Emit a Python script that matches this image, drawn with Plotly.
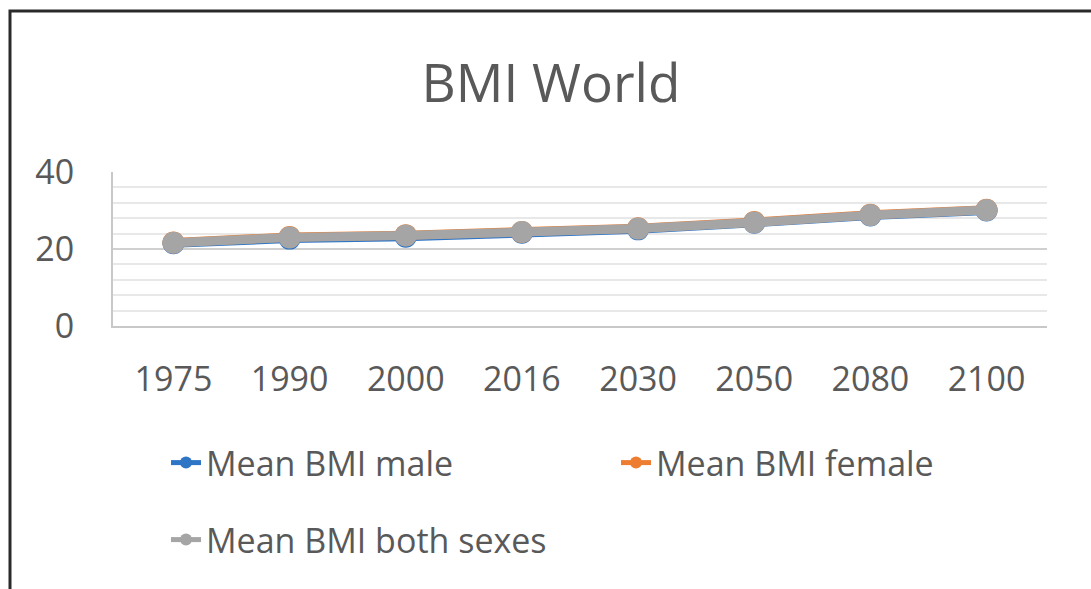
import plotly.graph_objects as go

years = ["1975", "1990", "2000", "2016", "2030", "2050", "2080", "2100"]
male = [21.5, 22.7, 23.2, 24.2, 25.1, 26.8, 28.7, 30.0]
female = [21.7, 23.1, 23.6, 24.4, 25.4, 27.0, 28.9, 30.2]
both = [21.6, 23.0, 23.5, 24.4, 25.3, 26.9, 28.8, 30.1]
series_names = ["Mean BMI male", "Mean BMI female", "Mean BMI both sexes"]
y_ticks = [0, 20, 40]

W, H = 1091, 589
L, R, T, B = 113, 1047, 172, 326

colors = ["#2E75C6", "#ED7D31", "#A5A5A5"]
legends = ["legend", "legend2", "legend3"]

fig = go.Figure()
for name, vals, col, lg in zip(series_names, [male, female, both], colors, legends):
    fig.add_trace(go.Scatter(
        x=years, y=vals, name=name, mode="lines+markers",
        line=dict(color=col, width=9),
        marker=dict(color=col, size=22),
        legend=lg, showlegend=True,
    ))

def px_x(p):
    return (p - L) / (R - L)

def px_y(p):
    return (B - p) / (B - T)

font_col = "#595959"
legend_common = dict(font=dict(family="Open Sans", size=34, color=font_col),
                     bgcolor="rgba(0,0,0,0)", xanchor="left", yanchor="middle",
                     itemsizing="constant", visible=True)

fig.update_layout(
    width=W, height=H,
    showlegend=True,
    margin=dict(l=L, r=W - R, t=T, b=H - B, autoexpand=False),
    paper_bgcolor="white", plot_bgcolor="white",
    title=dict(text="BMI World", x=551 / W, xanchor="center", y=1 - 83 / H, yanchor="middle",
               font=dict(family="Open Sans", size=53, color=font_col)),
    xaxis=dict(type="category", showgrid=False, showline=True, linecolor="#c8c8c8", linewidth=2,
               ticks="", ticklabelstandoff=22,
               tickfont=dict(family="Open Sans", size=34, color=font_col)),
    yaxis=dict(range=[0, 40], tickvals=y_ticks, showgrid=True, gridcolor="#d0d0d0", gridwidth=2,
               showline=True, linecolor="#c8c8c8", linewidth=2, zeroline=False,
               ticks="", ticklabelstandoff=30,
               tickfont=dict(family="Open Sans", size=34, color=font_col),
               minor=dict(dtick=4, showgrid=True, gridcolor="#e8e8e8", gridwidth=1.5)),
    legend=dict(x=px_x(166), y=px_y(463), **legend_common),
    legend2=dict(x=px_x(616), y=px_y(463), **legend_common),
    legend3=dict(x=px_x(166), y=px_y(540), **legend_common),
    shapes=[dict(type="rect", xref="paper", yref="paper",
                 x0=px_x(10), x1=px_x(1120), y0=px_y(620), y1=px_y(11),
                 line=dict(color="#2a2a2a", width=3), layer="above")],
)

fig.write_html("out.html")
